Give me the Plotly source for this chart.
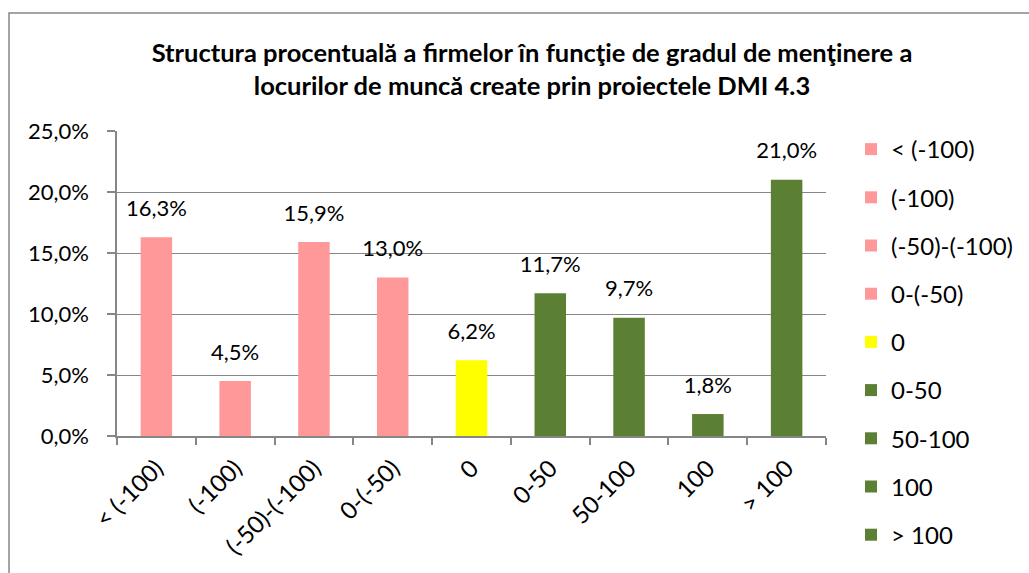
import plotly.graph_objects as go

categories = ["< (-100)", "(-100)", "(-50)-(-100)", "0-(-50)", "0", "0-50", "50-100", "100", "> 100"]
values = [0.163, 0.045, 0.159, 0.130, 0.062, 0.117, 0.097, 0.018, 0.210]
colors = ["#FF9999", "#FF9999", "#FF9999", "#FF9999", "#FFFF00", "#5B8034", "#5B8034", "#5B8034", "#5B8034"]
y_ticks = [0, 0.05, 0.10, 0.15, 0.20, 0.25]

FONT = "Lato"
GRID = "#868686"

fig = go.Figure()
for cat, val, col in zip(categories, values, colors):
    fig.add_trace(go.Bar(
        x=[cat], y=[val], name=cat, legendgroup=cat,
        marker=dict(color=col, line=dict(width=0)),
        width=0.4,
    ))

# data labels
fig.add_trace(go.Scatter(
    x=categories, y=values, mode="markers+text",
    marker=dict(size=24, opacity=0, color="white"),
    text=[f"{v*100:.1f}%".replace(".", ",") for v in values],
    textposition="top center",
    textfont=dict(family=FONT, size=22, color="#000000"),
    showlegend=False, hoverinfo="skip", cliponaxis=False,
))

fig.update_layout(
    width=1029, height=573,
    separators=", ",
    barmode="overlay",
    paper_bgcolor="white", plot_bgcolor="white",
    margin=dict(l=117, r=203, t=131, b=137, autoexpand=False),
    font=dict(family=FONT, size=20, color="#000000"),
    title=dict(
        text="<b>Structura procentuală a firmelor în funcţie de gradul de menţinere a<br>locurilor de muncă create prin proiectele DMI 4.3</b>",
        x=532 / 1029, xref="container", xanchor="center",
        y=1 - 62 / 573, yref="container", yanchor="middle",
        font=dict(family=FONT, size=25.5, color="#000000"),
    ),
    xaxis=dict(
        type="category", categoryorder="array", categoryarray=categories,
        range=[-0.5, len(categories) - 0.5], autorange=False,
        showline=True, linecolor=GRID, linewidth=1.5,
        ticks="outside", tickson="boundaries", ticklen=7, tickcolor=GRID, tickwidth=1.5,
        tickangle=-45, tickfont=dict(family=FONT, size=24, color="#000000"),
        ticklabelstandoff=7,
        showgrid=False,
    ),
    yaxis=dict(
        range=[0, 0.25], tickvals=y_ticks, tickformat=".1%",
        showline=True, linecolor=GRID, linewidth=1.5,
        ticks="outside", ticklen=8, tickcolor=GRID, tickwidth=1.5,
        showgrid=True, gridcolor=GRID, gridwidth=1.2,
        tickfont=dict(family=FONT, size=22, color="#000000"),
        ticklabelstandoff=14,
        zeroline=False,
    ),
    legend=dict(
        x=(851 - 117) / 709, xanchor="left",
        y=1 + (131 - 127) / 305, yanchor="top",
        font=dict(family=FONT, size=24, color="#000000"),
        tracegroupgap=14, itemwidth=30,
        maxheight=1.0,
        bgcolor="rgba(0,0,0,0)",
    ),
    showlegend=True,
)

fig.add_shape(
    type="rect", xref="paper", yref="paper",
    x0=(9 - 117) / 709, x1=2.0, y0=-1.0, y1=1 + (131 - 13) / 305,
    line=dict(color=GRID, width=1.5), fillcolor="rgba(0,0,0,0)", layer="below",
)

fig.write_html("out.html", config={"displayModeBar": False},
               post_script="document.body.style.margin='0';")
